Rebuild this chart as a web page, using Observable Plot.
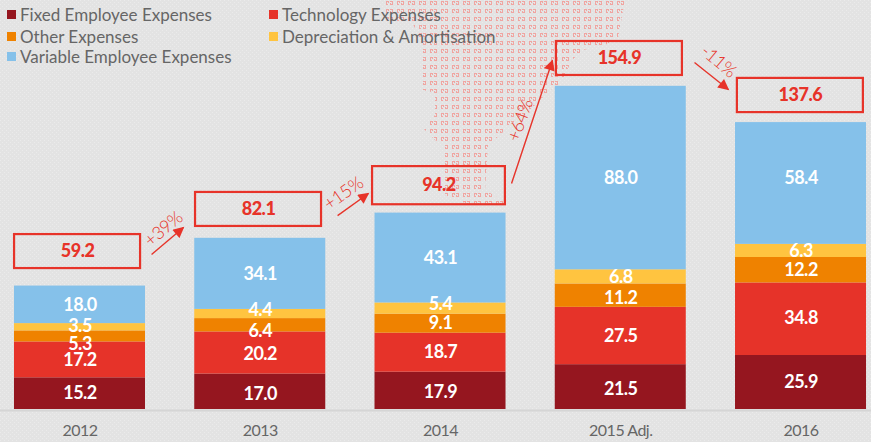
<!DOCTYPE html>
<html>
<head>
<meta charset="utf-8">
<script src="https://cdn.jsdelivr.net/npm/d3@7"></script>
<script src="https://cdn.jsdelivr.net/npm/@observablehq/plot@0.6"></script>
<style>
  html, body { margin: 0; padding: 0; width: 871px; height: 442px; overflow: hidden; }
  body {
    position: relative; font-family: Lato, sans-serif;
    background-color: #e3e3e3;
    background-image: url("data:image/svg+xml,%3Csvg xmlns='http://www.w3.org/2000/svg' width='4' height='4'%3E%3Crect width='1' height='1' fill='%23ebebeb'/%3E%3Crect x='2' y='2' width='1' height='1' fill='%23ebebeb'/%3E%3C/svg%3E");
  }
  #map {
    position: absolute; left: 0; top: 0; width: 871px; height: 442px;
    background-image: url("data:image/svg+xml,%3Csvg xmlns='http://www.w3.org/2000/svg' width='11' height='8'%3E%3Cpath fill='%23f0a5a1' fill-rule='evenodd' d='M1 1h3v2h-1v-1h-1v2h1v1h-2zM5 1h3v4h-3v-2h1v1h1v-2h-2z'/%3E%3C/svg%3E");
    clip-path: polygon(382px 0, 625px 0, 618px 38px, 605px 45px, 583px 50px, 572px 60px, 560px 85px, 550px 90px, 530px 110px, 510px 125px, 500px 135px, 488px 145px, 485px 190px, 507px 203px, 507px 209px, 480px 209px, 445px 195px, 445px 145px, 435px 140px, 423px 128px, 435px 115px, 435px 93px, 423px 90px, 423px 45px, 412px 22px, 382px 20px);
  }
  #plot { position: absolute; left: 0; top: 0; }
  #legend { position: absolute; left: 0; top: 0; color: #666; font-size: 17px; line-height: 21px; }
  #legend div { position: absolute; white-space: nowrap; }
  #legend i { position: absolute; width: 9px; height: 9px; left: -13px; top: 6px; }
  svg text { font-family: Lato, sans-serif; letter-spacing: -0.5px; }
</style>
</head>
<body>
<div id="map"></div>
<div id="plot"></div>
<div id="legend"></div>
<script>
const years = ["2012", "2013", "2014", "2015 Adj.", "2016"];
const seriesNames = ["Fixed Employee Expenses", "Technology Expenses", "Other Expenses", "Depreciation & Amortisation", "Variable Employee Expenses"];
const seriesColors = ["#95161f", "#e63329", "#ef8200", "#ffc440", "#85c1ea"];

const fixedEmployee = [15.2, 17.0, 17.9, 21.5, 25.9];
const technology = [17.2, 20.2, 18.7, 27.5, 34.8];
const other = [5.3, 6.4, 9.1, 11.2, 12.2];
const depreciation = [3.5, 4.4, 5.4, 6.8, 6.3];
const variableEmployee = [18.0, 34.1, 43.1, 88.0, 58.4];
const totals = [59.2, 82.1, 94.2, 154.9, 137.6];
const growth = ["+39%", "+15%", "+64%", "-11%"];

const values = [fixedEmployee, technology, other, depreciation, variableEmployee];

// label offsets along y, in value units, where the picture moves a label off its segment's middle
const labelShift = [
  [0, -1, -0.5, -1.2, 0],
  [-0.4, -0.7, 0, -0.2, 0.3],
  [-3.6, -2.9, 0, -1, 0],
  [0.5, 1.7, 1.9, 0, -0.3],
  [0, 0, 0, 0, 2.4]
];

const rows = [];
years.forEach((year, i) => {
  let base = 0;
  values.forEach((s, k) => {
    rows.push({i, k, v: s[i], y1: base, y2: base + s[i], mid: base + s[i] / 2 + labelShift[k][i], fill: seriesColors[k]});
    base += s[i];
  });
});

// annotation frames and arrows, in chart units
const frames = [
  {x1: -0.363, x2: 0.336, y1: 67.6, y2: 83.9, t: totals[0]},
  {x1: 0.641, x2: 1.34, y1: 87.8, y2: 104.1, t: totals[1]},
  {x1: 1.623, x2: 2.36, y1: 98.2, y2: 116.5, t: totals[2]},
  {x1: 2.643, x2: 3.342, y1: 160.2, y2: 176.5, t: totals[3]},
  {x1: 3.647, x2: 4.346, y1: 142.4, y2: 158.8, t: totals[4]}
];
const arrows = [
  {x1: 0.397, x2: 0.574, y1: 74.3, y2: 87.3, lx: 0.463, ly: 86.5, r: -40, t: growth[0]},
  {x1: 1.429, x2: 1.60, y1: 93.0, y2: 103.6, lx: 1.462, ly: 103.6, r: -35, t: growth[1]},
  {x1: 2.394, x2: 2.621, y1: 108.4, y2: 167.4, lx: 2.443, ly: 138.6, r: -70, t: growth[2]},
  {x1: 3.409, x2: 3.597, y1: 166.4, y2: 153.5, lx: 3.542, ly: 167, r: 40, t: growth[3]}
];

const headMarker = (color, context) => {
  const doc = context.document;
  const m = doc.createElementNS("http://www.w3.org/2000/svg", "marker");
  m.setAttribute("viewBox", "0 0 10 10");
  m.setAttribute("refX", "9");
  m.setAttribute("refY", "5");
  m.setAttribute("markerWidth", "13");
  m.setAttribute("markerHeight", "11");
  m.setAttribute("markerUnits", "userSpaceOnUse");
  m.setAttribute("orient", "auto");
  const p = doc.createElementNS("http://www.w3.org/2000/svg", "path");
  p.setAttribute("d", "M0,0L10,5L0,10Z");
  p.setAttribute("fill", color);
  p.setAttribute("stroke", "none");
  m.appendChild(p);
  return m;
};

const halfBar = 0.3634;
const red = "#e73329";

const chart = Plot.plot({
  width: 871,
  height: 442,
  margin: 0,
  marginBottom: 33,
  style: {background: "transparent", overflow: "visible"},
  x: {domain: [-0.441, 4.391], range: [0, 871], axis: null},
  y: {domain: [0, 196.16], range: [409, 0], axis: null},
  marks: [
    Plot.ruleY([-0.5], {stroke: "#d5d5d5", strokeWidth: 2}),
    Plot.rect(rows, {x1: d => d.i - halfBar, x2: d => d.i + halfBar, y1: "y1", y2: "y2", fill: "fill"}),
    Plot.text(rows, {x: "i", y: "mid", text: d => d.v.toFixed(1), fill: "white", fontSize: 18, fontWeight: 700}),
    Plot.rect(frames, {x1: "x1", x2: "x2", y1: "y1", y2: "y2", fill: "none", stroke: red, strokeWidth: 2.2}),
    Plot.text(frames, {x: d => (d.x1 + d.x2) / 2, y: d => (d.y1 + d.y2) / 2, text: d => d.t.toFixed(1), fill: red, fontSize: 18, fontWeight: 900}),
    Plot.link(arrows, {x1: "x1", y1: "y1", x2: "x2", y2: "y2", stroke: red, strokeWidth: 1.4, markerEnd: headMarker}),
    ...arrows.map(a => Plot.text([a], {x: "lx", y: "ly", text: "t", rotate: a.r, fill: red, fontSize: 18, fontWeight: 300})),
    Plot.text(years, {x: (d, i) => i, y: 0, dy: 21, text: d => d, fill: "#666", fontSize: 16})
  ]
});
document.getElementById("plot").appendChild(chart);

const legendAt = [[20, 4], [282, 4], [20, 25.5], [282, 25.5], [20, 46]];
const legend = document.getElementById("legend");
seriesNames.forEach((name, k) => {
  const el = document.createElement("div");
  el.style.left = legendAt[k][0] + "px";
  el.style.top = legendAt[k][1] + "px";
  const sw = document.createElement("i");
  sw.style.background = seriesColors[k];
  el.appendChild(sw);
  el.appendChild(document.createTextNode(name));
  legend.appendChild(el);
});
</script>
</body>
</html>
